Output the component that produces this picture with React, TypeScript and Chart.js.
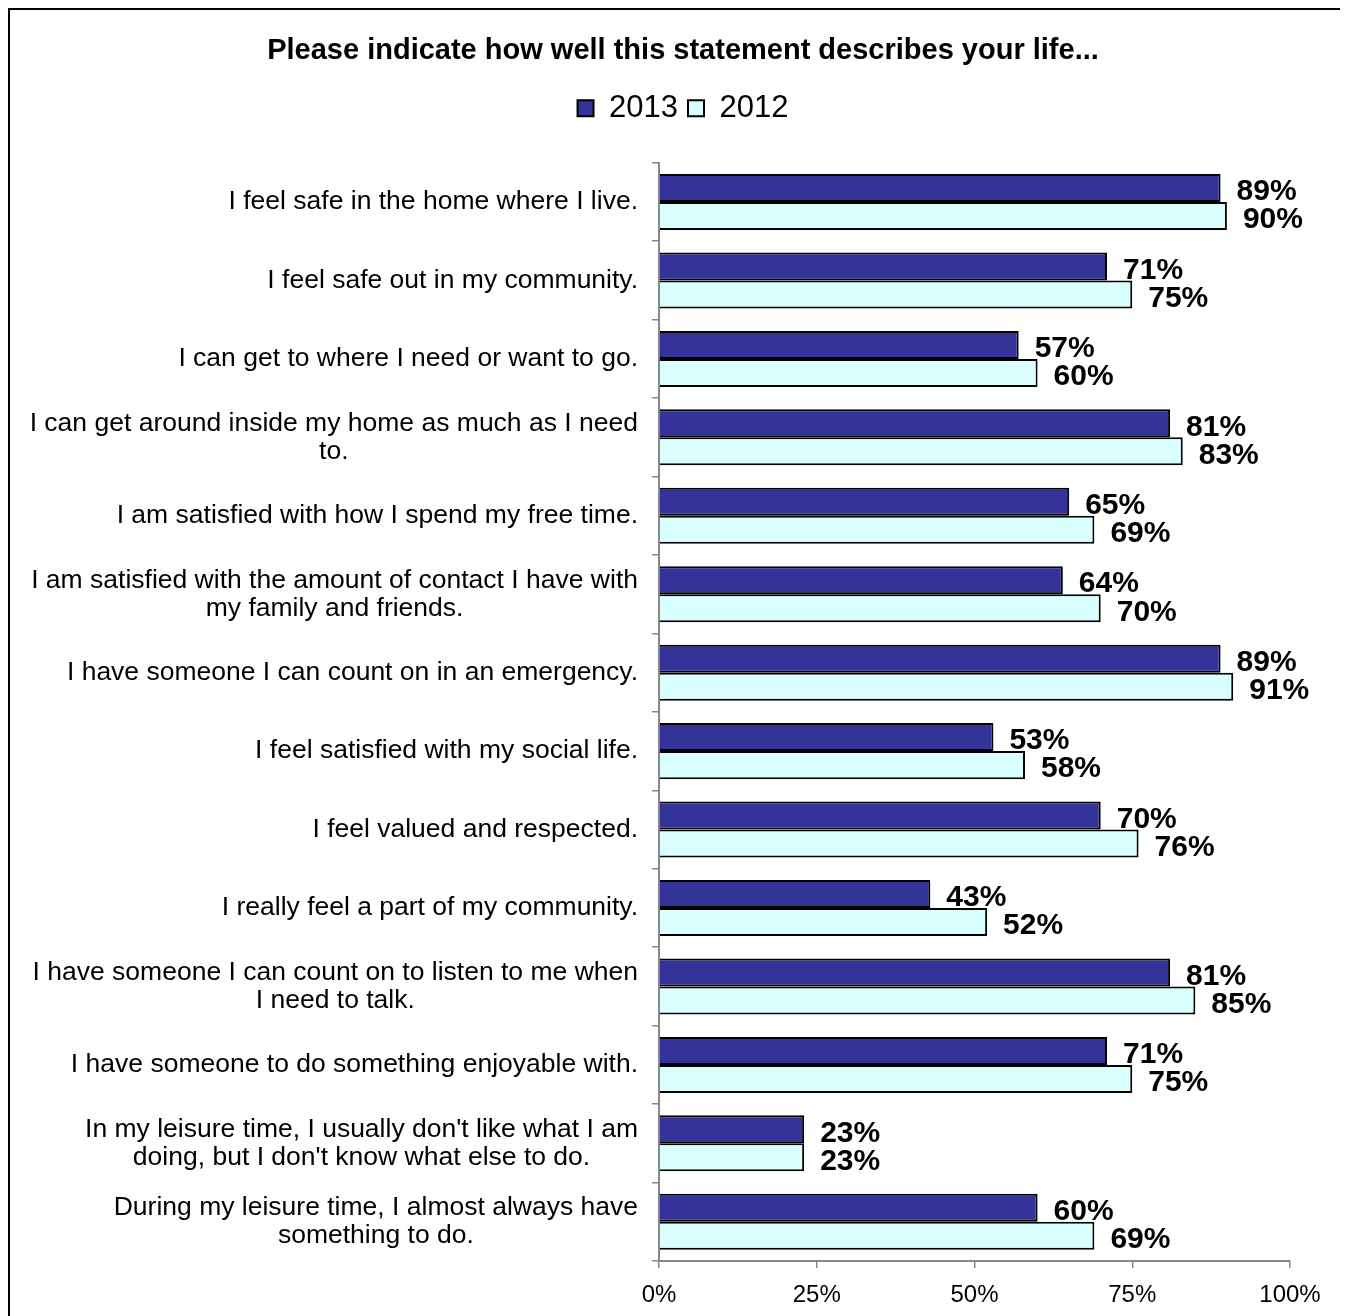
import React, { useEffect, useRef } from "react";
import { Chart, registerables } from "chart.js";

Chart.register(...registerables);

const categories: (string | string[])[] = [
  "I feel safe in the home where I live.",
  "I feel safe out in my community.",
  "I can get to where I need or want to go.",
  ["I can get around inside my home as much as I need", "to."],
  "I am satisfied with how I spend my free time.",
  ["I am satisfied with the amount of contact I have with", "my family and friends."],
  "I have someone I can count on in an emergency.",
  "I feel satisfied with my social life.",
  "I feel valued and respected.",
  "I really feel a part of my community.",
  ["I have someone I can count on to listen to me when", "I need to talk."],
  "I have someone to do something enjoyable with.",
  ["In my leisure time, I usually don't like what I am", "doing, but I don't know what else to do."],
  ["During my leisure time, I almost always have", "something to do."],
];

const values2013 = [89, 71, 57, 81, 65, 64, 89, 53, 70, 43, 81, 71, 23, 60];
const values2012 = [90, 75, 60, 83, 69, 70, 91, 58, 76, 52, 85, 75, 23, 69];

const seriesNames = ["2013", "2012"];
const xTickValues = [0, 25, 50, 75, 100];
const titleText = "Please indicate how well this statement describes your life...";

const FONT = "'Liberation Sans', Arial, Helvetica, sans-serif";

const legendGapPlugin = {
  id: "legendGap",
  beforeLayout(chart: any) {
    const lg = chart.legend;
    if (lg && !lg._patched) {
      const orig = lg.fit;
      lg.fit = function () {
        orig.call(this);
        this.height += 29;
      };
      lg._patched = true;
    }
  },
};

const yLabelPlugin = {
  id: "yLabels",
  afterDraw(chart: any) {
    const ctx = chart.ctx;
    const scale = chart.scales.y;
    const right = chart.chartArea.left - 21;
    const lineH = 28;
    ctx.save();
    ctx.font = `26.5px ${FONT}`;
    ctx.fillStyle = "#000";
    ctx.textBaseline = "middle";
    ctx.textAlign = "center";
    categories.forEach((lab, i) => {
      const lines = Array.isArray(lab) ? lab : [lab];
      const y = scale.getPixelForTick(i);
      const widest = Math.max(...lines.map((l) => ctx.measureText(l).width));
      const cx = right - widest / 2;
      lines.forEach((l, j) => {
        ctx.fillText(l, cx, y - ((lines.length - 1) * lineH) / 2 + j * lineH);
      });
    });
    ctx.restore();
  },
};

const valueLabelPlugin = {
  id: "valueLabels",
  afterDatasetsDraw(chart: any) {
    const ctx = chart.ctx;
    ctx.save();
    ctx.font = `bold 30px ${FONT}`;
    ctx.fillStyle = "#000";
    ctx.textAlign = "left";
    ctx.textBaseline = "middle";
    chart.data.datasets.forEach((ds: any, di: number) => {
      const meta = chart.getDatasetMeta(di);
      meta.data.forEach((bar: any, i: number) => {
        ctx.fillText(`${ds.data[i]}%`, bar.x + 16, bar.y + 4);
      });
    });
    ctx.restore();
  },
};

export default function App() {
  const ref = useRef<HTMLCanvasElement>(null);
  useEffect(() => {
    if (!ref.current) return;
    const chart = new Chart(ref.current, {
      type: "bar",
      data: {
        labels: categories.map((c) => (Array.isArray(c) ? c.join(" ") : c)),
        datasets: [
          {
            label: seriesNames[0],
            data: values2013,
            backgroundColor: "#333399",
            borderColor: "#000000",
            borderWidth: 2,
            categoryPercentage: 0.714,
            barPercentage: 1,
          },
          {
            label: seriesNames[1],
            data: values2012,
            backgroundColor: "#D9FFFF",
            borderColor: "#000000",
            borderWidth: 2,
            categoryPercentage: 0.714,
            barPercentage: 1,
          },
        ],
      },
      options: {
        indexAxis: "y",
        responsive: true,
        maintainAspectRatio: false,
        animation: false,
        layout: { padding: { top: 0, left: 8, right: 0, bottom: 0 } },
        plugins: {
          title: {
            display: true,
            text: titleText,
            color: "#000",
            font: { family: FONT, size: 29, weight: "bold" },
            padding: { top: 24, bottom: 14 },
          },
          legend: {
            display: true,
            position: "top",
            labels: {
              color: "#000",
              font: { family: FONT, size: 31 },
              boxWidth: 16,
              boxHeight: 16,
              padding: 10,
            },
          },
          tooltip: { enabled: false },
        },
        scales: {
          x: {
            min: 0,
            max: 100,
            afterBuildTicks: (s: any) => {
              s.ticks = xTickValues.map((v) => ({ value: v }));
            },
            ticks: {
              callback: (v: any) => `${v}%`,
              color: "#000",
              font: { family: FONT, size: 24 },
              padding: 13,
            },
            grid: { drawOnChartArea: false, drawTicks: true, tickLength: 7, color: "#888", lineWidth: 1.5 },
            border: { display: true, color: "#888", width: 2 },
            afterFit: (s: any) => {
              s.height = 45;
              s.paddingRight = 58;
            },
          },
          y: {
            ticks: { display: false },
            grid: { drawOnChartArea: false, drawTicks: true, tickLength: 7, offset: true, color: "#888", lineWidth: 1.5 },
            border: { display: true, color: "#888", width: 2 },
            afterFit: (s: any) => {
              s.width = 641;
            },
          },
        },
      },
      plugins: [legendGapPlugin, yLabelPlugin, valueLabelPlugin],
    } as any);
    return () => chart.destroy();
  }, []);

  return (
    <>
      <style>{`html{overflow:hidden;}`}</style>
      <div
        style={{
          width: 1400,
          height: 1400,
          borderTop: "2px solid #000",
          borderLeft: "2px solid #000",
          background: "#fff",
        }}
      >
        <div style={{ width: 1338, height: 1296, position: "relative" }}>
          <canvas ref={ref} />
        </div>
      </div>
    </>
  );
}
